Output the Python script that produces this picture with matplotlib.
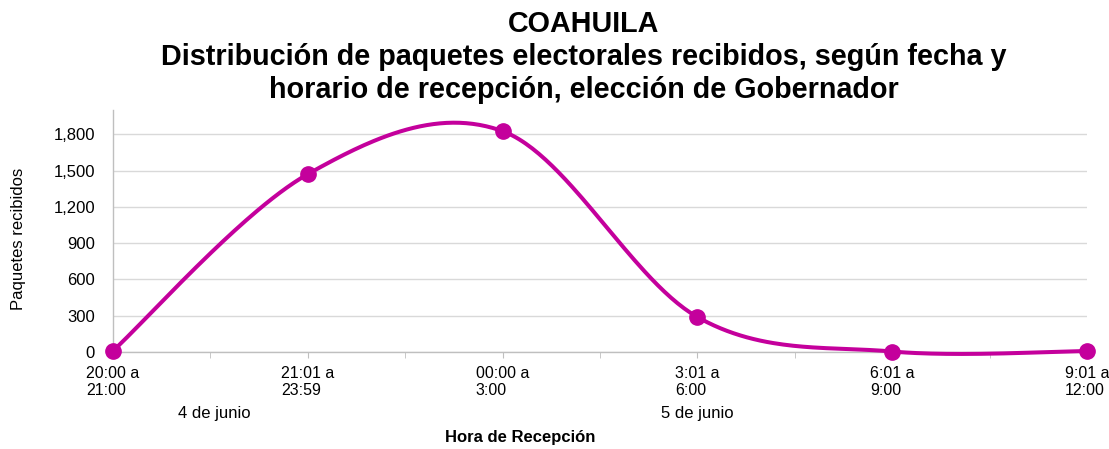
import numpy as np
import matplotlib.pyplot as plt
from matplotlib.ticker import FuncFormatter, MultipleLocator

plt.rcParams["font.family"] = ["Liberation Sans", "DejaVu Sans"]

# Data
horarios = ["20:00 a\n21:00", "21:01 a\n23:59", "00:00 a\n3:00",
            "3:01 a\n6:00", "6:01 a\n9:00", "9:01 a\n12:00"]
paquetes = [10, 1470, 1825, 289, 4, 8]
fechas = ["4 de junio", "5 de junio"]
fecha_pos = [0.52, 3.0]

color = "#C4009C"


def smooth_curve(y, n=60):
    """Excel-like smoothed line: cubic Bezier with Catmull-Rom control points."""
    y = np.asarray(y, dtype=float)
    x = np.arange(len(y), dtype=float)
    pts = np.column_stack([x, y])
    out = []
    for i in range(len(pts) - 1):
        p0 = pts[max(i - 1, 0)]
        p1 = pts[i]
        p2 = pts[i + 1]
        p3 = pts[min(i + 2, len(pts) - 1)]
        c1 = p1 + (p2 - p0) / 6
        c2 = p2 - (p3 - p1) / 6
        t = np.linspace(0, 1, n)[:, None]
        seg = ((1 - t) ** 3) * p1 + 3 * ((1 - t) ** 2) * t * c1 \
            + 3 * (1 - t) * t ** 2 * c2 + t ** 3 * p2
        out.append(seg if i == 0 else seg[1:])
    seg = np.vstack(out)
    return seg[:, 0], seg[:, 1]


fig = plt.figure(figsize=(11.09, 4.49), dpi=100)
ax = fig.add_axes([113 / 1109, 97 / 449, (1087 - 113) / 1109, 242 / 449])

xs, ys = smooth_curve(paquetes)
ax.plot(xs, ys, color=color, lw=2.9, clip_on=False, zorder=3)
ax.plot(range(len(paquetes)), paquetes, "o", color=color, ms=11,
        clip_on=False, zorder=4)

ax.set_xlim(0, len(paquetes) - 1)
ax.set_ylim(0, 2000)
ax.set_yticks(range(0, 1801, 300))
ax.yaxis.set_major_formatter(FuncFormatter(lambda v, p: f"{int(v):,}"))
ax.grid(axis="y", color="#D9D9D9", lw=1)
ax.set_axisbelow(True)

ax.set_xticks(range(len(horarios)))
ax.set_xticklabels(horarios)
ax.xaxis.set_minor_locator(MultipleLocator(0.5))
for lbl in ax.get_xticklabels():
    lbl.set_multialignment("left")
    lbl.set_linespacing(1.15)

ax.tick_params(axis="x", which="both", length=4, color="#BFBFBF",
               labelsize=11.5, pad=6)
ax.tick_params(axis="y", length=0, labelsize=12, pad=13)

for side in ["top", "right"]:
    ax.spines[side].set_visible(False)
for side in ["left", "bottom"]:
    ax.spines[side].set_color("#BFBFBF")
    ax.spines[side].set_linewidth(1)

fig.text(18.5 / 1109, 1 - 239 / 449, "Paquetes recibidos", rotation=90,
         ha="center", va="center", fontsize=12)

for f, xp in zip(fechas, fecha_pos):
    ax.text(xp, -0.255, f, transform=ax.get_xaxis_transform(),
            ha="center", va="center", fontsize=12)

ax.text(2.09, -0.354, "Hora de Recepción", transform=ax.get_xaxis_transform(),
        ha="center", va="center", fontsize=12, fontweight="bold")

fig.text(584 / 1109, 1 - 57 / 449,
         "COAHUILA\nDistribución de paquetes electorales recibidos, según fecha y\n"
         "horario de recepción, elección de Gobernador",
         ha="center", va="center", fontsize=20.7, fontweight="bold",
         linespacing=1.24)

fig.savefig("out.png", dpi=100)
